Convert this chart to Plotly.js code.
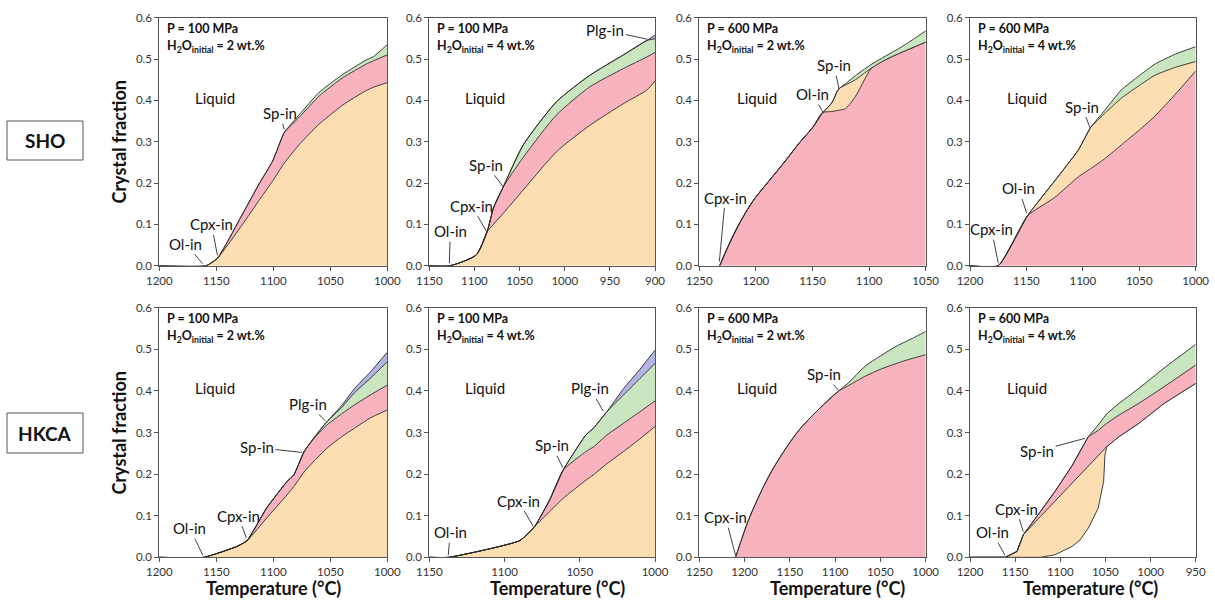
<!DOCTYPE html>
<html><head><meta charset="utf-8">
<script src="https://cdn.plot.ly/plotly-3.0.1.min.js"></script>
<style>html,body{margin:0;padding:0;background:#fff}#chart{width:1215px;height:608px}</style>
</head><body><div id="chart"></div>
<script>
// ---------- DATA (cumulative crystal fraction boundaries, bottom to top) ----------
// SHO, 100 MPa, 2 wt.%
const shoA_T      = [1200,1159,1149,1127,1112,1100.6,1090.4,1077,1060,1039,1019,1012,1000];
const shoA_orange = [0,0,0.018,0.10,0.16,0.205,0.248,0.294,0.342,0.389,0.423,0.432,0.443];
const shoA_pink   = [0,0,0.018,0.125,0.2,0.253,0.322,0.36,0.41,0.455,0.487,0.496,0.51];
const shoA_green  = [0,0,0.018,0.125,0.2,0.253,0.322,0.366,0.419,0.463,0.497,0.506,0.535];
// SHO, 100 MPa, 4 wt.%
const shoB_T      = [1150,1127,1098,1086,1079,1068,1046,1009,972,935,909,900];
const shoB_orange = [0,0,0.026,0.082,0.1,0.127,0.183,0.276,0.34,0.392,0.425,0.447];
const shoB_pink   = [0,0,0.026,0.082,0.139,0.191,0.262,0.365,0.433,0.477,0.505,0.516];
const shoB_green  = [0,0,0.026,0.082,0.139,0.191,0.292,0.397,0.461,0.51,0.545,0.549];
const shoB_purple = [0,0,0.026,0.082,0.139,0.191,0.292,0.397,0.461,0.51,0.545,0.558];
// SHO, 600 MPa, 2 wt.%
const shoC_T      = [1232,1224,1215,1203,1190,1175,1162,1150,1141,1133,1127,1121,1112,1106,1097.5,1085,1074,1062,1050];
const shoC_pink   = [0,0.05,0.1,0.155,0.2,0.25,0.296,0.334,0.37,0.373,0.376,0.38,0.41,0.44,0.479,0.499,0.513,0.527,0.541];
const shoC_orange = [0,0.05,0.1,0.155,0.2,0.25,0.296,0.334,0.37,0.394,0.427,0.437,0.45,0.462,0.479,0.499,0.513,0.527,0.541];
const shoC_green  = [0,0.05,0.1,0.155,0.2,0.25,0.296,0.334,0.37,0.394,0.427,0.44,0.46,0.472,0.488,0.508,0.525,0.546,0.568];
// SHO, 600 MPa, 4 wt.%
const shoD_T      = [1200,1175,1149,1125,1104,1093,1080,1066,1050,1036,1018,1000];
const shoD_pink   = [0,0,0.121,0.165,0.215,0.235,0.26,0.292,0.328,0.362,0.415,0.471];
const shoD_orange = [0,0,0.121,0.205,0.28,0.335,0.37,0.405,0.436,0.461,0.48,0.494];
const shoD_green  = [0,0,0.121,0.205,0.28,0.335,0.378,0.425,0.46,0.488,0.512,0.53];
// HKCA, 100 MPa, 2 wt.%
const hkE_T      = [1200,1161,1132,1123,1106,1088,1082,1073,1063,1053,1040,1029,1015,1000];
const hkE_orange = [0,0,0.026,0.04,0.094,0.15,0.17,0.205,0.235,0.262,0.29,0.31,0.335,0.354];
const hkE_pink   = [0,0,0.026,0.04,0.118,0.182,0.198,0.254,0.29,0.318,0.345,0.366,0.39,0.414];
const hkE_green  = [0,0,0.026,0.04,0.118,0.182,0.198,0.254,0.292,0.326,0.36,0.395,0.43,0.47];
const hkE_purple = [0,0,0.026,0.04,0.118,0.182,0.198,0.254,0.292,0.326,0.365,0.405,0.445,0.493];
// HKCA, 100 MPa, 4 wt.%
const hkF_T      = [1150,1137,1090,1080,1070,1061,1046,1041,1032,1021,1010,1000];
const hkF_orange = [0,0,0.04,0.074,0.11,0.142,0.185,0.198,0.225,0.254,0.285,0.314];
const hkF_pink   = [0,0,0.04,0.074,0.138,0.21,0.254,0.265,0.294,0.322,0.35,0.376];
const hkF_green  = [0,0,0.04,0.074,0.138,0.21,0.294,0.31,0.35,0.39,0.43,0.466];
const hkF_purple = [0,0,0.04,0.074,0.138,0.21,0.294,0.31,0.35,0.405,0.452,0.498];
// HKCA, 600 MPa, 2 wt.%
const hkG_T     = [1210,1203,1196,1185,1172,1155,1139,1118,1096.5,1085,1067,1050,1031,1015,1000];
const hkG_pink  = [0,0.045,0.088,0.143,0.2,0.26,0.308,0.356,0.399,0.413,0.435,0.452,0.467,0.478,0.487];
const hkG_green = [0,0.045,0.088,0.143,0.2,0.26,0.308,0.356,0.399,0.42,0.459,0.484,0.509,0.526,0.543];
// HKCA, 600 MPa, 4 wt.%
const hkH_T      = [1200,1161,1148,1141,1122,1106,1087,1078,1069,1058,1052,1050.5,1048.6,1035,1013,985,950];
const hkH_base   = [0,0,0,0,0,0.006,0.026,0.042,0.07,0.118,0.182,0.246,0.266,0.29,0.322,0.37,0.418];
const hkH_orange = [0,0,0.014,0.054,0.098,0.134,0.178,0.198,0.218,0.244,0.258,0.262,0.266,0.29,0.322,0.37,0.418];
const hkH_pink   = [0,0,0.014,0.054,0.11,0.158,0.22,0.254,0.29,0.305,0.315,0.318,0.322,0.342,0.37,0.41,0.462];
const hkH_green  = [0,0,0.014,0.054,0.11,0.158,0.22,0.254,0.29,0.318,0.335,0.34,0.345,0.37,0.406,0.455,0.512];

// Axis ranges (temperature, decreasing) and tick values
const tempRanges = [[1200,1000],[1150,900],[1250,1050],[1200,1000],[1200,1000],[1150,1000],[1250,1000],[1200,950]];
const fracTicks = [0,0.1,0.2,0.3,0.4,0.5,0.6];
const fracTickText = ['0.0','0.1','0.2','0.3','0.4','0.5','0.6'];
const pressures = ['100','100','600','600','100','100','600','600'];
const waters = ['2','4','2','4','2','4','2','4'];
const rowNames = ['SHO','HKCA'];

// Phase-in labels: [text, T, fraction]
const labelsA = [['Ol-in',1162,0.005],['Cpx-in',1149,0.025],['Sp-in',1090.5,0.33]];
const labelsB = [['Plg-in',908.5,0.548],['Sp-in',1068,0.191],['Cpx-in',1086.4,0.082],['Ol-in',1127.8,0.006]];
const labelsC = [['Cpx-in',1232.3,0.01],['Ol-in',1141,0.372],['Sp-in',1126.5,0.427]];
const labelsD = [['Cpx-in',1174.9,0.006],['Ol-in',1149.8,0.127],['Sp-in',1093.7,0.334]];
const labelsE = [['Ol-in',1161.8,0.005],['Cpx-in',1123.7,0.047],['Sp-in',1074.8,0.252],['Plg-in',1054.3,0.328]];
const labelsF = [['Ol-in',1137.4,0.005],['Cpx-in',1080.9,0.074],['Sp-in',1061.3,0.216],['Plg-in',1034.4,0.351]];
const labelsG = [['Cpx-in',1210,0.005],['Sp-in',1096.5,0.402]];
const labelsH = [['Ol-in',1161.2,0.005],['Cpx-in',1141,0.0615],['Sp-in',1072.6,0.286]];

// ---------- STYLE ----------
const ORANGE='#FDDDB2', PINK='#F9B3BF', GREEN='#C9E6C1', PURPLE='#B5B4E6', LINE='#2a2a2a';
const FONT='Lato, "Open Sans", sans-serif';
const W=1215, H=608;
const px=v=>v/W, py=v=>1-v/H;
const colPx=[[159.3,387.3],[429.3,655],[699.3,925.7],[970,1195.7]];
const rowPx=[[17.7,265.7],[307.7,557.3]];
// label text offsets (pixels) per panel, same order as label arrays
const offs = [
  [[-17,-20],[-6,-31],[-4,-16]],
  [[-42,-9],[-17,-22],[-15,-26],[1,-32]],
  [[6,-64],[-10,-18],[-5,-24]],
  [[-7,-34],[-8,-25],[-8,-21]],
  [[-13,-27],[-8,-22],[-45,-5],[-17,-17]],
  [[2,-23],[-15,-26],[-11,-22],[-13,-23]],
  [[-10,-38],[-14,-16]],
  [[-13,-23],[-7,-23],[-48,13]]
];

const panels = [
  {T:shoA_T, layers:[[shoA_orange,ORANGE],[shoA_pink,PINK],[shoA_green,GREEN]], labels:labelsA, smooth:0.45},
  {T:shoB_T, layers:[[shoB_orange,ORANGE],[shoB_pink,PINK],[shoB_green,GREEN],[shoB_purple,PURPLE]], labels:labelsB, smooth:0.6},
  {T:shoC_T, layers:[[shoC_pink,PINK],[shoC_orange,ORANGE],[shoC_green,GREEN]], labels:labelsC, smooth:0.9},
  {T:shoD_T, layers:[[shoD_pink,PINK],[shoD_orange,ORANGE],[shoD_green,GREEN]], labels:labelsD, smooth:0.45},
  {T:hkE_T, layers:[[hkE_orange,ORANGE],[hkE_pink,PINK],[hkE_green,GREEN],[hkE_purple,PURPLE]], labels:labelsE, smooth:0.45},
  {T:hkF_T, layers:[[hkF_orange,ORANGE],[hkF_pink,PINK],[hkF_green,GREEN],[hkF_purple,PURPLE]], labels:labelsF, smooth:0.45},
  {T:hkG_T, layers:[[hkG_pink,PINK],[hkG_green,GREEN]], labels:labelsG, smooth:1.0},
  {T:hkH_T, base:hkH_base, layers:[[hkH_orange,ORANGE],[hkH_pink,PINK],[hkH_green,GREEN]], labels:labelsH, smooth:0}
];

const traces=[], annotations=[], shapes=[];
const layout={width:W,height:H,margin:{l:0,r:0,t:0,b:0},paper_bgcolor:'#fff',plot_bgcolor:'#fff',
  showlegend:false,font:{family:FONT,color:'#111'},annotations,shapes,hovermode:false};

function paperText(x,y,text,size,extra){
  annotations.push(Object.assign({xref:'paper',yref:'paper',x:px(x),y:py(y),xanchor:'center',yanchor:'middle',
    showarrow:false,text:text,font:{size:size,family:FONT,color:'#111'}},extra||{}));
}

panels.forEach((p,i)=>{
  const n=i+1, xa='x'+(n===1?'':n), ya='y'+(n===1?'':n);
  const col=i%4, row=Math.floor(i/4);
  const axBase={showline:true,mirror:true,linecolor:'#555',linewidth:1,ticks:'outside',ticklen:4,tickcolor:'#555',
    showgrid:false,zeroline:false,fixedrange:true,tickfont:{family:FONT,size:11.5,color:'#333'}};
  layout['xaxis'+(n===1?'':n)]=Object.assign({},axBase,{domain:[px(colPx[col][0]),px(colPx[col][1])],
    range:tempRanges[i],dtick:50,tick0:0,anchor:ya});
  layout['yaxis'+(n===1?'':n)]=Object.assign({},axBase,{domain:[py(rowPx[row][1]),py(rowPx[row][0])],
    range:[0,0.6],tickvals:fracTicks,ticktext:fracTickText,anchor:xa});
  const lineStyle=p.smooth>0?{color:LINE,width:0.9,shape:'spline',smoothing:p.smooth}:{color:LINE,width:0.9};
  let first=true;
  if(p.base){
    traces.push({x:p.T,y:p.base,xaxis:xa,yaxis:ya,type:'scatter',mode:'lines',line:lineStyle,hoverinfo:'skip'});
    first=false;
  }
  p.layers.forEach(([y,c])=>{
    traces.push({x:p.T,y:y,xaxis:xa,yaxis:ya,type:'scatter',mode:'lines',line:lineStyle,
      fill:first?'tozeroy':'tonexty',fillcolor:c,hoverinfo:'skip'});
    first=false;
  });
  // header texts
  const lx=colPx[col][0]+6, ty=rowPx[row][0];
  paperText(lx,ty+10.5,'<b>P = '+pressures[i]+' MPa</b>',12.5,{xanchor:'left'});
  paperText(lx,ty+28.5,'<b>H<sub>2</sub>O<sub>initial</sub> = '+waters[i]+' wt.%</b>',12.5,{xanchor:'left'});
  // Liquid
  paperText([215,485,756.7,1026.7][col],[97.7,387.7][row],'Liquid',15);
  // phase labels
  p.labels.forEach(([t,T,f],k)=>{
    annotations.push({xref:xa,yref:ya,x:T,y:f,text:t,showarrow:true,arrowhead:0,arrowwidth:0.9,arrowcolor:LINE,
      standoff:0,ax:offs[i][k][0],ay:offs[i][k][1],font:{size:15,family:FONT,color:'#111'}});
  });
});

// axis titles
[142,433].forEach(y=>paperText(118.5,y,'<b>Crystal fraction</b>',18,{textangle:-90}));
[273,557,837,1090].forEach(x=>paperText(x,588,'<b>Temperature (°C)</b>',18));
// row labels with boxes
[[121,160],[413,453]].forEach(([y0,y1],r)=>{
  shapes.push({type:'rect',xref:'paper',yref:'paper',x0:px(7),x1:px(83),y0:py(y1),y1:py(y0),line:{color:'#555',width:1},fillcolor:'rgba(0,0,0,0)'});
  paperText(45,(y0+y1)/2,'<b>'+rowNames[r]+'</b>',19);
});

Plotly.newPlot('chart',traces,layout,{staticPlot:true,displayModeBar:false});
</script></body></html>
